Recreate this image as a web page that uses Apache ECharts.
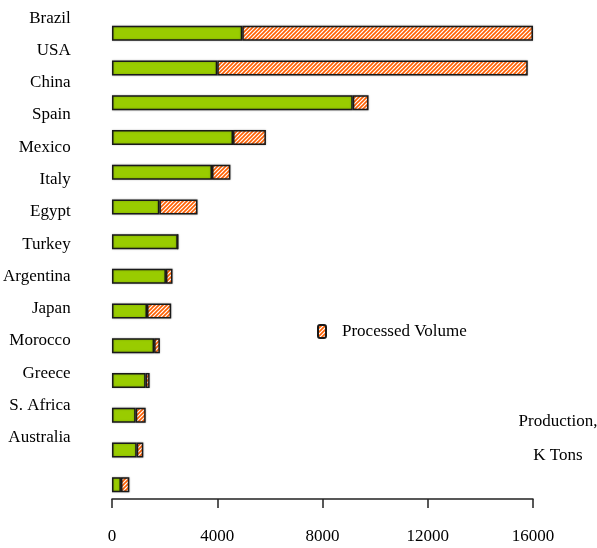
<!DOCTYPE html>
<html>
<head>
<meta charset="utf-8">
<script src="https://cdn.jsdelivr.net/npm/echarts@6/dist/echarts.min.js"></script>
<style>html,body{margin:0;padding:0;background:#fff}#c{width:597px;height:548px}</style>
</head>
<body>
<div id="c"></div>
<script>
const countries = ['Brazil','USA','China','Spain','Mexico','Italy','Egypt','Turkey','Argentina','Japan','Morocco','Greece','S. Africa','Australia'];
const freshValues = [4950, 4000, 9150, 4600, 3800, 1800, 2500, 2050, 1330, 1600, 1280, 900, 940, 340];
const processedValues = [11050, 11800, 600, 1250, 700, 1450, 0, 250, 920, 220, 150, 380, 250, 320];
const xTicks = [0, 4000, 8000, 12000, 16000];

function hatch() {
  const p = 4;
  const cv = document.createElement('canvas');
  cv.width = p; cv.height = p;
  const ctx = cv.getContext('2d');
  ctx.fillStyle = '#ffffff';
  ctx.fillRect(0, 0, p, p);
  ctx.strokeStyle = '#ff6000';
  ctx.lineWidth = 1.6;
  ctx.beginPath();
  ctx.moveTo(0, p); ctx.lineTo(p, 0);
  ctx.moveTo(-1, 1); ctx.lineTo(1, -1);
  ctx.moveTo(p - 1, p + 1); ctx.lineTo(p + 1, p - 1);
  ctx.stroke();
  return cv;
}

const font = 'Liberation Serif';
const chart = echarts.init(document.getElementById('c'), null, {renderer: 'canvas'});
chart.setOption({
  animation: false,
  backgroundColor: '#ffffff',
  title: {
    text: 'Production,\nK Tons',
    left: 553, top: 400,
    textAlign: 'center',
    textStyle: {fontFamily: font, fontSize: 17, fontWeight: 'normal', color: '#000', lineHeight: 34}
  },
  legend: {
    data: ['Processed Volume'],
    left: 312, top: 318,
    itemWidth: 8, itemHeight: 13,
    textStyle: {fontFamily: font, fontSize: 17, color: '#000', padding: [0, 0, 0, 11]}
  },
  grid: [
    {left: 112, right: 64, top: 16, bottom: 46},
    {left: 112, right: 64, top: 2, height: 452}
  ],
  xAxis: [
    {
      type: 'value', gridIndex: 0, min: xTicks[0], max: xTicks[xTicks.length - 1], interval: 4000,
      offset: -3,
      splitLine: {show: false},
      axisLine: {show: true, lineStyle: {color: '#222', width: 1.5}},
      axisTick: {show: true, length: 9, lineStyle: {color: '#222', width: 1.5}},
      axisLabel: {fontFamily: font, fontSize: 17, color: '#000', margin: 29, formatter: v => String(v)}
    },
    {type: 'value', gridIndex: 1, show: false, min: 0, max: 16000}
  ],
  yAxis: [
    {
      type: 'category', gridIndex: 0, data: countries, inverse: true,
      axisLine: {show: false}, axisTick: {show: false}, axisLabel: {show: false}
    },
    {
      type: 'category', gridIndex: 1, data: countries, inverse: true,
      axisLine: {show: false}, axisTick: {show: false},
      axisLabel: {fontFamily: font, fontSize: 17, color: '#000', margin: 42}
    }
  ],
  series: [
    {
      name: 'Fresh', type: 'bar', stack: 'total', data: freshValues, barWidth: 15,
      xAxisIndex: 0, yAxisIndex: 0,
      itemStyle: {color: '#99cc00', borderColor: '#1a1a1a', borderWidth: 1.5, shadowColor: 'rgba(0,0,0,0.25)', shadowBlur: 2}
    },
    {
      name: 'Processed Volume', type: 'bar', stack: 'total', data: processedValues, barWidth: 15,
      xAxisIndex: 0, yAxisIndex: 0,
      itemStyle: {color: {image: hatch(), repeat: 'repeat'}, borderColor: '#1a1a1a', borderWidth: 1.5, shadowColor: 'rgba(0,0,0,0.25)', shadowBlur: 2}
    }
  ]
});
</script>
</body>
</html>
